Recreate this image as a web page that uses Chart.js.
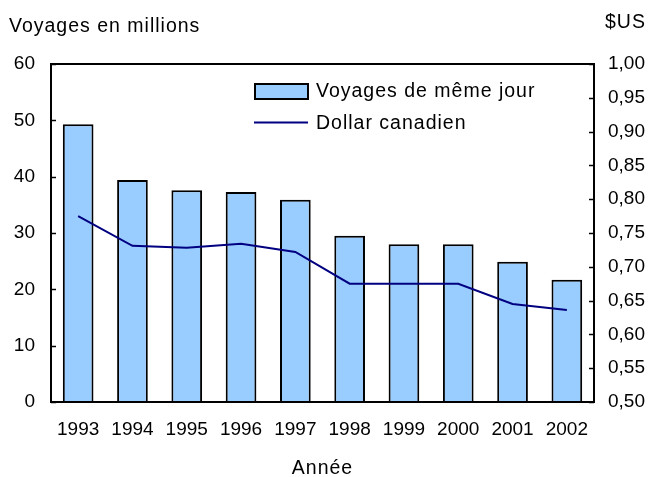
<!DOCTYPE html>
<html><head><meta charset="utf-8">
<script src="https://cdn.jsdelivr.net/npm/chart.js@4"></script>
<style>html,body{margin:0;padding:0;background:#fff}#wrap{width:653px;height:477px}</style>
</head><body><div id="wrap"><canvas id="c" width="653" height="477"></canvas></div>
<script>
const years = ['1993','1994','1995','1996','1997','1998','1999','2000','2001','2002'];
const sameDayTrips = [49.3, 39.4, 37.6, 37.3, 35.9, 29.5, 28.0, 28.0, 24.9, 21.7];
const cadDollar = [0.775, 0.731, 0.728, 0.734, 0.722, 0.675, 0.675, 0.675, 0.645, 0.636];
const leftTicks = [0,10,20,30,40,50,60];
const rightTicks = [0.50,0.55,0.60,0.65,0.70,0.75,0.80,0.85,0.90,0.95,1.00];

const FONT = 'Liberation Sans, Arial, sans-serif';

const decor = {
  id: 'decor',
  afterDraw(chart) {
    const ctx = chart.ctx, a = chart.chartArea;
    const y = chart.scales.y, y1 = chart.scales.y1;
    ctx.save();
    ctx.strokeStyle = '#000'; ctx.lineWidth = 2;
    ctx.strokeRect(a.left, a.top, a.right - a.left, a.bottom - a.top);
    ctx.lineWidth = 1.5;
    leftTicks.forEach(v => { const p = Math.round(y.getPixelForValue(v)) + 0.5; ctx.beginPath(); ctx.moveTo(a.left, p); ctx.lineTo(a.left + 5, p); ctx.stroke(); });
    rightTicks.forEach(v => { const p = Math.round(y1.getPixelForValue(v)) + 0.5; ctx.beginPath(); ctx.moveTo(a.right - 5, p); ctx.lineTo(a.right, p); ctx.stroke(); });
    ctx.fillStyle = '#000';
    ctx.font = '19.5px ' + FONT;
    ctx.letterSpacing = '1px';
    ctx.textBaseline = 'alphabetic';
    ctx.textAlign = 'left';
    ctx.fillText('Voyages en millions', 9, 32);
    ctx.fillText('$US', 605, 28);
    ctx.textAlign = 'center';
    ctx.fillText('Année', (a.left + a.right) / 2, 474);
    // legend
    const ds = chart.data.datasets;
    ctx.textAlign = 'left';
    ctx.fillStyle = ds[0].backgroundColor; ctx.fillRect(255, 84, 53, 15);
    ctx.strokeStyle = '#000'; ctx.lineWidth = 2; ctx.strokeRect(255, 84, 53, 15);
    ctx.fillStyle = '#000'; ctx.fillText(ds[0].label, 316, 97);
    ctx.strokeStyle = ds[1].borderColor; ctx.lineWidth = 2;
    ctx.beginPath(); ctx.moveTo(254, 122.5); ctx.lineTo(308, 122.5); ctx.stroke();
    ctx.fillText(ds[1].label, 316, 129);
    ctx.restore();
  }
};

new Chart(document.getElementById('c'), {
  data: {
    labels: years,
    datasets: [
      { type: 'bar', label: 'Voyages de même jour', data: sameDayTrips, yAxisID: 'y', backgroundColor: '#99CCFF', borderColor: '#000', borderWidth: 2, barPercentage: 0.565, categoryPercentage: 1, order: 1 },
      { type: 'line', label: 'Dollar canadien', data: cadDollar, yAxisID: 'y1', borderColor: '#000080', borderWidth: 2, pointRadius: 0, tension: 0, fill: false, order: 0 }
    ]
  },
  options: {
    responsive: false, animation: false,
    layout: { padding: { top: 64, left: 0, right: 0, bottom: 0 } },
    plugins: { legend: { display: false }, tooltip: { enabled: false } },
    scales: {
      x: {
        grid: { display: false, drawTicks: false }, border: { display: false },
        ticks: { color: '#000', font: { size: 19, family: FONT }, padding: 16, maxRotation: 0 },
        afterFit(s) { s.height = 75; }
      },
      y: {
        position: 'left', min: 0, max: 60,
        afterBuildTicks(s) { s.ticks = leftTicks.map(v => ({ value: v })); },
        grid: { display: false, drawTicks: false }, border: { display: false },
        ticks: { color: '#000', font: { size: 19, family: FONT }, padding: 16 },
        afterFit(s) { s.width = 51; }
      },
      y1: {
        position: 'right', min: 0.5, max: 1.0,
        afterBuildTicks(s) { s.ticks = rightTicks.map(v => ({ value: v })); },
        grid: { display: false, drawTicks: false }, border: { display: false },
        ticks: { color: '#000', font: { size: 19, family: FONT }, padding: 14, callback: v => v.toFixed(2).replace('.', ',') },
        afterFit(s) { s.width = 59; }
      }
    }
  },
  plugins: [decor]
});
</script></body></html>
